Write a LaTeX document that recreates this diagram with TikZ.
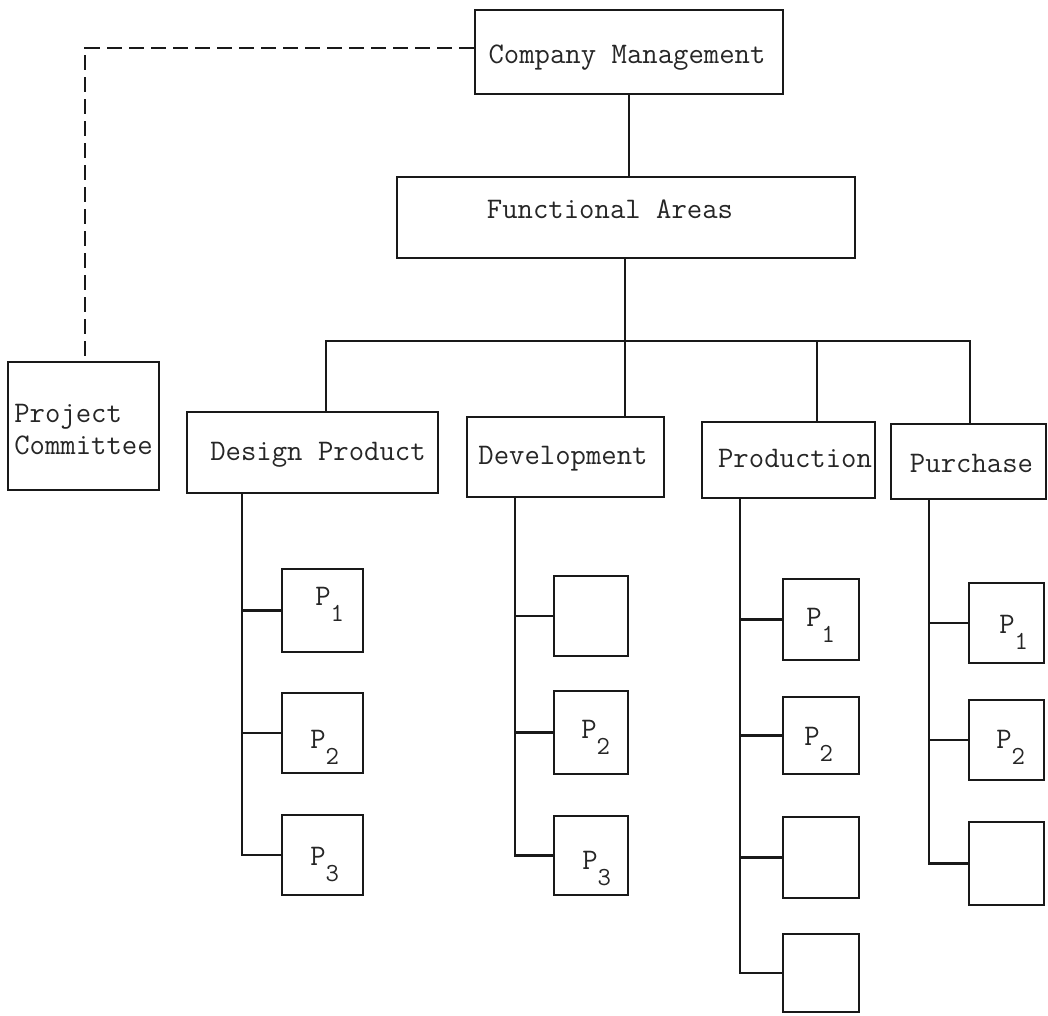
\documentclass[tikz,border=0pt]{standalone}
\usepackage{fontspec}
\newcommand\Psub[1]{P\raisebox{-12pt}{\fontsize{19.5}{19.5}\selectfont #1}}
\begin{document}
\begin{tikzpicture}[x=0.75pt,y=-0.75pt,
  ink/.style={draw=black!90, line width=2.1pt},
  wire/.style={draw=black!90, line width=1.8pt},
  box/.style={ink, rectangle, inner sep=0pt},
  sz/.style 2 args={minimum width={#1*0.75pt}, minimum height={#2*0.75pt}},
  lbl/.style={inner sep=0pt, text=black!85, font=\ttfamily\fontsize{22.4}{24}\selectfont},
  ]
\useasboundingbox (0,0) rectangle (1048,1015);

% top of the hierarchy
\node[box, sz={308}{84}]  (cm)   at (629,52)      {};
\node[box, sz={458}{81}]  (fa)   at (626,217.5)   {};
\node[box, sz={151}{128}] (pc)   at (83.5,426)    {};

% functional areas
\node[box, sz={251}{81}]  (dp)   at (312.5,452.5) {};
\node[box, sz={197}{80}]  (dev)  at (565.5,457)   {};
\node[box, sz={173}{76}]  (prod) at (788.5,460)   {};
\node[box, sz={155}{75}]  (pur)  at (968.5,461.5) {};

% project boxes under Design Product
\node[box, sz={81}{83}] (dp1) at (322.5,610.5) {};
\node[box, sz={81}{80}] (dp2) at (322.5,733)   {};
\node[box, sz={81}{80}] (dp3) at (322.5,855)   {};
% under Development
\node[box, sz={74}{80}] (dv1) at (591,616)     {};
\node[box, sz={74}{83}] (dv2) at (591,732.5)   {};
\node[box, sz={74}{79}] (dv3) at (591,855.5)   {};
% under Production
\node[box, sz={76}{81}] (pr1) at (821,619.5)   {};
\node[box, sz={76}{77}] (pr2) at (821,735.5)   {};
\node[box, sz={76}{81}] (pr3) at (821,857.5)   {};
\node[box, sz={76}{78}] (pr4) at (821,973)     {};
% under Purchase
\node[box, sz={75}{80}] (pu1) at (1006.5,623)  {};
\node[box, sz={75}{80}] (pu2) at (1006.5,740)  {};
\node[box, sz={75}{83}] (pu3) at (1006.5,863.5) {};

% labels
\node[lbl, anchor=base] (cm-t)   at (627,63)    {Company Management};
\node[lbl, anchor=base] (fa-t)   at (610,218)   {Functional Areas};
\node[lbl, anchor=west, align=left] (pc-t) at (14,430) {Project\\Committee};
\node[lbl, anchor=base] (dp-t)   at (318,460)   {Design Product};
\node[lbl, anchor=base] (dev-t)  at (563,464)   {Development};
\node[lbl, anchor=base] (prod-t) at (795,467)   {Production};
\node[lbl, anchor=base] (pur-t)  at (971.5,472) {Purchase};

\node[lbl, anchor=base west] (dp1-t) at (315,605)  {\Psub{1}};
\node[lbl, anchor=base west] (dp2-t) at (310,748)  {\Psub{2}};
\node[lbl, anchor=base west] (dp3-t) at (310,865)  {\Psub{3}};
\node[lbl, anchor=base west] (dv2-t) at (581,738)  {\Psub{2}};
\node[lbl, anchor=base west] (dv3-t) at (582,869)  {\Psub{3}};
\node[lbl, anchor=base west] (pr1-t) at (806,626)  {\Psub{1}};
\node[lbl, anchor=base west] (pr2-t) at (804,745)  {\Psub{2}};
\node[lbl, anchor=base west] (pu1-t) at (999,633)  {\Psub{1}};
\node[lbl, anchor=base west] (pu2-t) at (996,748)  {\Psub{2}};

% staff link to the project committee
\coordinate (dc) at (85,48);
\draw[wire, dash pattern=on 11pt off 5.5pt] (cm.west |- dc) -- (dc) -- (dc |- pc.north);

% line of command
\draw[wire] (cm.south) -- (cm.south |- fa.north);
\coordinate (busL) at (326,341);
\coordinate (busM) at (625,341);
\coordinate (busP) at (817,341);
\coordinate (busR) at (970,341);
\draw[wire] (busL |- dp.north) -- (busL) -- (busR) -- (busR |- pur.north);
\draw[wire] (busM |- fa.south) -- (busM |- dev.north);
\draw[wire] (busP) -- (busP |- prod.north);

% project branches
\coordinate (sA) at (242,0);
\coordinate (sB) at (515,0);
\coordinate (sC) at (740,0);
\coordinate (sD) at (929,0);
\draw[wire] (sA |- dp.south) -- (sA |- dp3.west) -- (dp3.west);
\draw[wire] (sA |- dp1.west) -- (dp1.west);
\draw[wire] (sA |- dp2.west) -- (dp2.west);
\draw[wire] (sB |- dev.south) -- (sB |- dv3.west) -- (dv3.west);
\draw[wire] (sB |- dv1.west) -- (dv1.west);
\draw[wire] (sB |- dv2.west) -- (dv2.west);
\draw[wire] (sC |- prod.south) -- (sC |- pr4.west) -- (pr4.west);
\draw[wire] (sC |- pr1.west) -- (pr1.west);
\draw[wire] (sC |- pr2.west) -- (pr2.west);
\draw[wire] (sC |- pr3.west) -- (pr3.west);
\draw[wire] (sD |- pur.south) -- (sD |- pu3.west) -- (pu3.west);
\draw[wire] (sD |- pu1.west) -- (pu1.west);
\draw[wire] (sD |- pu2.west) -- (pu2.west);
\end{tikzpicture}
\end{document}
